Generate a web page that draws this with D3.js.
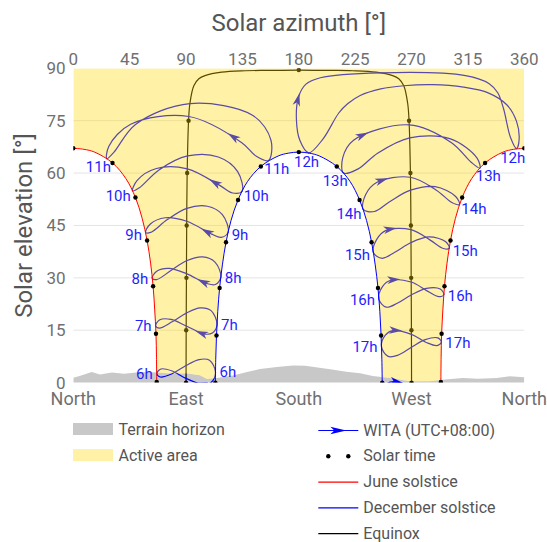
<!DOCTYPE html>
<html>
<head>
<meta charset="utf-8">
<script src="https://cdn.jsdelivr.net/npm/d3@7"></script>
<style>
  body { margin: 0; background: #fff; }
  svg { font-family: Roboto, "Noto Sans", sans-serif; }
</style>
</head>
<body>
<svg id="chart" width="547" height="542"></svg>
<script>
// axis ticks
const azimuthTicks = [0, 45, 90, 135, 180, 225, 270, 315, 360];
const elevationTicks = [0, 15, 30, 45, 60, 75, 90];
const compass = [[0, 'North'], [90, 'East'], [180, 'South'], [270, 'West'], [360, 'North']];

// day paths: [solar hour, azimuth, elevation]
const juneMorning = [
  [6, 66.6, 0.2], [6.5, 66.4, 7.1], [7, 66.0, 14.0], [7.5, 65.0, 20.8],
  [8, 63.7, 27.6], [8.5, 61.7, 34.2], [9, 58.9, 40.7], [9.5, 55.0, 47.0],
  [10, 49.6, 53.0], [10.5, 42.0, 58.4], [11, 31.3, 62.9], [11.5, 17.0, 66.0],
  [11.75, 8.5, 66.8], [12, 0, 67.1]
];
const juneAfternoon = [
  [12, 360, 67.1], [12.25, 351.5, 66.8], [12.5, 343.0, 66.0], [13, 328.7, 62.9],
  [13.5, 318.0, 58.4], [14, 310.4, 53.0], [14.5, 305.0, 47.0], [15, 301.1, 40.7],
  [15.5, 298.3, 34.2], [16, 296.3, 27.6], [16.5, 295.0, 20.8], [17, 294.0, 14.0],
  [17.5, 293.6, 7.1], [18, 293.4, 0.2]
];
const decemberPath = [
  [6, 113.4, 0], [6.5, 113.7, 6.7], [7, 114.3, 13.5], [7.5, 115.3, 20.3],
  [8, 116.8, 27.1], [8.5, 119.0, 33.7], [9, 121.9, 40.2], [9.5, 125.9, 46.4],
  [10, 131.5, 52.3], [10.5, 139.1, 57.6], [11, 149.7, 61.9], [11.5, 163.6, 64.9],
  [11.75, 171.6, 65.7], [12, 180, 66.0], [12.25, 188.4, 65.7], [12.5, 196.4, 64.9],
  [13, 210.3, 61.9], [13.5, 220.9, 57.6], [14, 228.5, 52.3], [14.5, 234.1, 46.4],
  [15, 238.1, 40.2], [15.5, 241.0, 33.7], [16, 243.2, 27.1], [16.5, 244.7, 20.3],
  [17, 245.7, 13.5], [17.5, 246.3, 6.7], [18, 246.6, 0]
];
const equinoxPath = [
  [6, 90.0, 0], [7, 90.1, 15.0], [8, 90.3, 30.0], [9, 90.5, 45.0], [10, 90.9, 60.0],
  [11, 92.0, 75.0], [11.33, 93.1, 80.0], [11.67, 96.2, 85.0], [11.8, 100.2, 87.0],
  [11.87, 105.1, 87.9], [11.93, 118.4, 88.9], [11.97, 137.2, 89.3], [11.98, 155.2, 89.4],
  [12, 180, 89.5], [12.02, 204.8, 89.4], [12.03, 222.8, 89.3], [12.07, 241.6, 88.9],
  [12.13, 254.9, 87.9], [12.2, 259.8, 87.0], [12.33, 263.8, 85.0], [12.67, 266.9, 80.0],
  [13, 268.0, 75.0], [14, 269.1, 60.0], [15, 269.5, 45.0], [16, 269.7, 30.0],
  [17, 269.9, 15.0], [18, 270.0, 0]
];

// terrain horizon: [azimuth, elevation]
const terrain = [
  [0, 1.4], [5, 1.9], [14.7, 3.0], [21.3, 2.3], [30.9, 2.9], [40.5, 2.5], [54, 3.0],
  [66.8, 2.9], [77.2, 2.6], [90.8, 2.6], [101, 2.1], [106.7, 1.0], [114.7, 1.3],
  [127.5, 2.0], [138.7, 3.0], [149, 3.9], [162.5, 4.5], [175.4, 4.9], [185, 4.8],
  [205, 3.8], [218, 3.1], [229, 2.7], [239, 1.9], [252.8, 1.3], [268.6, 0.4],
  [284.6, 0.4], [296.7, 0.9], [311, 1.3], [323, 1.1], [338, 1.3], [348.5, 1.8],
  [354, 1.7], [360, 1.5]
];

// WITA clock-hour analemmas: [date, azimuth, elevation]
const wita06 = [['06-21', 66.6, 2.6], ['07-20', 69.4, 1.6], ['08-25', 79.2, 2.6], ['09-23', 90.0, 4.9], ['10-20', 100.4, 6.6], ['11-15', 108.7, 6.4], ['12-21', 113.5, 3.0], ['01-20', 110.2, 0.1], ['02-11', 104.2, -0.6], ['03-20', 90.0, 1.2], ['04-20', 78.4, 3.4], ['05-20', 70.0, 3.9]];
const wita07 = [['06-21', 65.7, 16.3], ['07-20', 68.7, 15.6], ['08-25', 78.9, 17.4], ['09-23', 90.2, 19.9], ['10-20', 101.3, 21.4], ['11-15', 110.0, 20.6], ['12-21', 114.7, 16.7], ['01-20', 111.0, 14.2], ['02-11', 104.8, 13.9], ['03-20', 90.2, 16.2], ['04-20', 78.0, 18.1], ['05-20', 69.1, 18.0]];
const wita08 = [['06-21', 63.0, 29.9], ['07-20', 66.5, 29.5], ['08-25', 77.6, 32.0], ['09-23', 90.4, 34.9], ['10-20', 103.2, 36.0], ['11-15', 113.1, 34.5], ['12-21', 117.8, 30.2], ['01-20', 113.4, 28.1], ['02-11', 106.5, 28.4], ['03-20', 90.3, 31.2], ['04-20', 76.5, 32.7], ['05-20', 66.6, 31.9]];
const wita09 = [['06-21', 57.7, 43.0], ['07-20', 61.8, 43.0], ['08-25', 74.8, 46.6], ['09-23', 90.6, 49.9], ['10-20', 107.0, 50.5], ['11-15', 119.0, 48.1], ['12-21', 123.6, 43.1], ['01-20', 118.1, 41.6], ['02-11', 110.0, 42.6], ['03-20', 90.6, 46.2], ['04-20', 73.4, 47.2], ['05-20', 61.5, 45.4]];
const wita10 = [['06-21', 47.3, 54.9], ['07-20', 52.4, 55.7], ['08-25', 68.4, 60.9], ['09-23', 91.2, 64.9], ['10-20', 115.8, 64.6], ['11-15', 131.2, 60.4], ['12-21', 134.7, 54.8], ['01-20', 127.2, 54.3], ['02-11', 117.2, 56.4], ['03-20', 91.0, 61.2], ['04-20', 66.3, 61.3], ['05-20', 51.0, 57.9]];
const wita11 = [['06-21', 26.8, 64.1], ['07-20', 32.5, 66.0], ['08-25', 49.9, 74.0], ['09-23', 93.0, 79.9], ['10-20', 143.4, 76.5], ['11-15', 157.8, 69.4], ['12-21', 155.8, 63.6], ['01-20', 146.1, 64.8], ['02-11', 134.5, 68.7], ['03-20', 92.2, 76.2], ['04-20', 45.8, 74.0], ['05-20', 28.4, 67.7]];
const wita12 = [['06-21', 353.9, 67.0], ['07-20', 355.9, 69.9], ['08-10', 353.8, 74.8], ['08-25', 346.2, 79.5], ['09-05', 331.6, 82.9], ['09-12', 311.5, 84.6], ['09-18', 286.7, 85.3], ['09-23', 263.8, 85.0], ['09-28', 245.4, 84.1], ['10-05', 229.0, 82.2], ['10-12', 219.2, 79.9], ['10-20', 211.9, 77.2], ['11-15', 199.4, 69.8], ['12-21', 187.9, 65.8], ['01-20', 180.9, 69.3], ['02-11', 178.1, 75.3], ['03-01', 179.7, 81.7], ['03-10', 185.5, 85.4], ['03-15', 197.2, 87.3], ['03-20', 245.4, 88.7], ['03-25', 313.1, 87.9], ['04-01', 332.0, 85.6], ['04-08', 338.8, 83.0], ['04-20', 343.4, 78.5], ['05-20', 349.0, 70.2]];
const wita13 = [['06-21', 324.5, 61.4], ['07-20', 322.3, 64.3], ['08-25', 301.1, 69.8], ['09-23', 268.5, 70.1], ['10-20', 242.9, 65.7], ['11-15', 227.4, 61.2], ['12-21', 215.7, 60.0], ['01-20', 215.1, 64.4], ['02-11', 223.7, 69.4], ['03-20', 268.1, 73.8], ['04-20', 301.9, 68.7], ['05-20', 317.6, 63.1]];
const wita14 = [['06-21', 308.3, 51.0], ['07-20', 305.2, 53.3], ['08-25', 288.8, 56.1], ['09-23', 269.2, 55.1], ['10-20', 252.5, 51.8], ['11-15', 240.4, 49.0], ['12-21', 231.4, 49.6], ['01-20', 233.3, 53.8], ['02-11', 242.1, 57.3], ['03-20', 269.1, 58.8], ['04-20', 289.8, 55.1], ['05-20', 302.5, 51.5]];
const wita15 = [['06-21', 300.1, 38.5], ['07-20', 297.0, 40.4], ['08-25', 284.0, 41.7], ['09-23', 269.6, 40.1], ['10-20', 256.6, 37.3], ['11-15', 246.6, 35.6], ['12-21', 239.6, 37.2], ['01-20', 242.2, 41.0], ['02-11', 249.7, 43.6], ['03-20', 269.5, 43.8], ['04-20', 284.9, 40.8], ['05-20', 295.4, 38.4]];
const wita16 = [['06-21', 295.8, 25.2], ['07-20', 292.9, 26.8], ['08-25', 281.9, 27.0], ['09-23', 269.8, 25.1], ['10-20', 258.6, 22.7], ['11-15', 249.8, 21.6], ['12-21', 243.9, 23.9], ['01-20', 246.8, 27.5], ['02-11', 253.3, 29.3], ['03-20', 269.7, 28.8], ['04-20', 282.7, 26.2], ['05-20', 291.8, 24.6]];
const wita17 = [['06-21', 293.8, 11.6], ['07-20', 291.0, 12.8], ['08-25', 280.9, 12.3], ['09-23', 269.9, 10.1], ['10-20', 259.5, 7.9], ['11-15', 251.3, 7.5], ['12-21', 246.0, 10.3], ['01-20', 249.1, 13.6], ['02-11', 255.2, 14.9], ['03-20', 269.9, 13.8], ['04-20', 281.7, 11.5], ['05-20', 290.3, 10.6]];
const wita18 = [['06-21', 293.5, -2.2], ['07-20', 290.6, -1.2], ['08-25', 280.8, -2.4], ['09-23', 270.0, -4.9], ['10-20', 259.7, -6.8], ['11-15', 251.4, -6.8], ['12-21', 246.5, -3.4], ['01-20', 249.8, -0.5], ['02-11', 255.8, 0.3], ['03-20', 270.0, -1.2], ['04-20', 281.7, -3.2], ['05-20', 290.1, -3.5]];

const witaHours = [6, 7, 8, 9, 10, 11, 12, 13, 14, 15, 16, 17, 18];
const witaLoops = [wita06, wita07, wita08, wita09, wita10, wita11, wita12, wita13, wita14, wita15, wita16, wita17, wita18];
const labelledHours = [6, 7, 8, 9, 10, 11, 12, 13, 14, 15, 16, 17];

const svg = d3.select('#chart');
const x = d3.scaleLinear().domain([0, 360]).range([73.3, 524.3]);
const y = d3.scaleLinear().domain([0, 90]).range([382.6, 68.3]);
const [x0, x1] = x.range();
const [yb, yt] = y.range();

const dayLine = d3.line().x(d => x(d[1])).y(d => y(d[2])).curve(d3.curveCatmullRom.alpha(0.5));
const loopLine = d3.line().x(d => x(d[1])).y(d => y(d[2])).curve(d3.curveCatmullRomClosed.alpha(0.5));
const terrainArea = d3.area().x(d => x(d[0])).y0(yb + 4).y1(d => y(d[1]));

const defs = svg.append('defs');
defs.append('clipPath').attr('id', 'plot').append('rect')
  .attr('x', x0).attr('y', yt).attr('width', x1 - x0).attr('height', yb - yt);

// active area = sky the sun reaches, above the terrain
const mask = defs.append('mask').attr('id', 'active')
  .attr('maskUnits', 'userSpaceOnUse').attr('x', 0).attr('y', 0).attr('width', 547).attr('height', 542);
mask.append('rect').attr('x', x0).attr('y', yt).attr('width', x1 - x0).attr('height', yb - yt).attr('fill', '#fff');
const jmA = juneMorning[0], jmB = juneMorning[juneMorning.length - 1];
mask.append('path').attr('fill', '#000')
  .attr('d', dayLine(juneMorning) + `L${x(jmB[1]) - 3},${y(jmB[2])}L${x(jmB[1]) - 3},${yb + 4}L${x(jmA[1])},${yb + 4}Z`);
const jaA = juneAfternoon[0], jaB = juneAfternoon[juneAfternoon.length - 1];
mask.append('path').attr('fill', '#000')
  .attr('d', dayLine(juneAfternoon) + `L${x(jaB[1])},${yb + 4}L${x(jaA[1]) + 3},${yb + 4}L${x(jaA[1]) + 3},${y(jaA[2])}Z`);
const dA = decemberPath[0], dB = decemberPath[decemberPath.length - 1];
mask.append('path').attr('fill', '#000')
  .attr('d', dayLine(decemberPath) + `L${x(dB[1])},${yb + 4}L${x(dA[1])},${yb + 4}Z`);
mask.append('path').attr('fill', '#000').attr('d', terrainArea(terrain));

const plot = svg.append('g').attr('clip-path', 'url(#plot)');

plot.append('path').attr('d', terrainArea(terrain)).attr('fill', '#c8c8c8');

plot.selectAll('.grid').data(elevationTicks.filter(t => t > 0 && t < 90)).enter().append('line')
  .attr('x1', x0).attr('x2', x1).attr('y1', d => y(d)).attr('y2', d => y(d))
  .attr('stroke', '#e4e4e4').attr('stroke-width', 1);

// equinox
plot.append('path').attr('d', dayLine(equinoxPath)).attr('fill', 'none')
  .attr('stroke', '#000').attr('stroke-width', 1.2);
plot.selectAll('.eqdot').data(equinoxPath.filter(d => Number.isInteger(d[0]))).enter().append('circle')
  .attr('cx', d => x(d[1])).attr('cy', d => y(d[2])).attr('r', 2.2).attr('fill', '#000');

// analemmas with a direction arrow between Feb and Mar
const loopColor = '#0000ff';
const arrowShape = 'M6,0L-7,-3.8L-3.5,0L-7,3.8Z';

function arrowAlong(node, pa, pb, frac) {
  const total = node.getTotalLength();
  let la = 0, da = Infinity;
  for (let l = 0; l <= total; l += 0.5) {
    const q = node.getPointAtLength(l);
    const d = (q.x - pa[0]) ** 2 + (q.y - pa[1]) ** 2;
    if (d < da) { da = d; la = l; }
  }
  let lb = la, db = Infinity;
  for (let l = la; l <= total; l += 0.5) {
    const q = node.getPointAtLength(l);
    const d = (q.x - pb[0]) ** 2 + (q.y - pb[1]) ** 2;
    if (d < db) { db = d; lb = l; }
  }
  const l = la + frac * (lb - la);
  const p = node.getPointAtLength(l);
  const p0 = node.getPointAtLength(Math.max(0, l - 1));
  const p1 = node.getPointAtLength(Math.min(total, l + 1));
  return { x: p.x, y: p.y, angle: Math.atan2(p1.y - p0.y, p1.x - p0.x) * 180 / Math.PI };
}

witaLoops.forEach(points => {
  const node = plot.append('path').attr('d', loopLine(points)).attr('fill', 'none')
    .attr('stroke', loopColor).attr('stroke-width', 1.2).node();
  const a = points.find(p => p[0] === '02-11'), b = points.find(p => p[0] === '03-20');
  const arr = arrowAlong(node, [x(a[1]), y(a[2])], [x(b[1]), y(b[2])], 0.18);
  plot.append('path').attr('d', arrowShape).attr('fill', loopColor)
    .attr('transform', `translate(${arr.x},${arr.y}) rotate(${arr.angle})`);
});

// yellow active area laid over the lines
plot.append('rect').attr('x', x0).attr('y', yt).attr('width', x1 - x0).attr('height', yb - yt)
  .attr('fill', '#ffd700').attr('fill-opacity', 0.35).attr('mask', 'url(#active)');

// solstices
[juneMorning, juneAfternoon].forEach(p => plot.append('path').attr('d', dayLine(p))
  .attr('fill', 'none').attr('stroke', '#ff0000').attr('stroke-width', 1));
plot.append('path').attr('d', dayLine(decemberPath)).attr('fill', 'none')
  .attr('stroke', '#0000ff').attr('stroke-width', 1);
plot.selectAll('.soldot').data([...juneMorning, ...juneAfternoon, ...decemberPath].filter(d => Number.isInteger(d[0])))
  .enter().append('circle')
  .attr('cx', d => x(d[1])).attr('cy', d => y(d[2])).attr('r', 2.2).attr('fill', '#000');

// hour labels beside the solstice crossings
const labels = svg.append('g').attr('font-size', 15).attr('fill', '#1f1fff');
function placeLabel(text, pt, curve) {
  const px = x(pt[1]), py = y(pt[2]);
  const pts = curve.map(d => [x(d[1]), y(d[2])]);
  const i = d3.minIndex(pts, q => (q[0] - px) ** 2 + (q[1] - py) ** 2);
  const a = pts[Math.max(0, i - 1)], b = pts[Math.min(pts.length - 1, i + 1)];
  let nx = -(b[1] - a[1]), ny = b[0] - a[0];
  if (ny < 0) { nx = -nx; ny = -ny; }
  nx *= 0.7;
  const len = Math.hypot(nx, ny);
  nx /= len; ny /= len;
  const t = labels.append('text').text(text).attr('text-anchor', 'middle').attr('dominant-baseline', 'central');
  const w = t.node().getComputedTextLength(), h = 11, gap = 4;
  let cx = px + nx * (gap + w / 2);
  const cy = py + ny * (gap + h / 2);
  cx = Math.min(cx, x1 + 1 - w / 2);
  t.attr('x', cx).attr('y', cy);
}
labelledHours.forEach(hour => {
  const points = witaLoops[witaHours.indexOf(hour)];
  const june = points.find(p => p[0] === '06-21');
  const dec = points.find(p => p[0] === '12-21');
  placeLabel(hour + 'h', june, june[1] < 180 ? juneMorning : juneAfternoon);
  placeLabel(hour + 'h', dec, decemberPath);
});

// axes
svg.append('g').attr('font-size', 17).attr('fill', '#707070').attr('text-anchor', 'middle')
  .selectAll('text').data(azimuthTicks).enter().append('text')
  .attr('x', d => x(d)).attr('y', 64.5).text(d => d);
svg.append('g').attr('font-size', 17).attr('fill', '#707070').attr('text-anchor', 'end')
  .selectAll('text').data(elevationTicks).enter().append('text')
  .attr('x', 65.5).attr('y', d => y(d)).attr('dominant-baseline', 'central').text(d => d);
svg.append('g').attr('font-size', 18).attr('fill', '#707070').attr('text-anchor', 'middle')
  .selectAll('text').data(compass).enter().append('text')
  .attr('x', d => x(d[0])).attr('y', 405).text(d => d[1]);

svg.append('text').attr('x', (x0 + x1) / 2).attr('y', 31).attr('text-anchor', 'middle')
  .attr('font-size', 24).attr('fill', '#555').text('Solar azimuth [°]');
svg.append('text').attr('transform', `translate(32,${(yb + yt) / 2}) rotate(-90)`).attr('text-anchor', 'middle')
  .attr('font-size', 24).attr('fill', '#555').text('Solar elevation [°]');

// legend
const legend = svg.append('g').attr('font-size', 16).attr('fill', '#555');
legend.append('rect').attr('x', 73).attr('y', 423).attr('width', 40).attr('height', 12).attr('fill', '#c8c8c8');
legend.append('text').attr('x', 118.5).attr('y', 429.5).attr('dominant-baseline', 'central').text('Terrain horizon');
legend.append('rect').attr('x', 73).attr('y', 449).attr('width', 40).attr('height', 12)
  .attr('fill', '#ffd700').attr('fill-opacity', 0.35);
legend.append('text').attr('x', 118.5).attr('y', 455).attr('dominant-baseline', 'central').text('Active area');

const rows = [
  { label: 'WITA (UTC+08:00)', kind: 'arrow', color: loopColor },
  { label: 'Solar time', kind: 'dots', color: '#000' },
  { label: 'June solstice', kind: 'line', color: '#ff0000' },
  { label: 'December solstice', kind: 'line', color: '#0000ff' },
  { label: 'Equinox', kind: 'line', color: '#000' }
];
rows.forEach((r, i) => {
  const ry = 430.5 + i * 25.8;
  if (r.kind === 'dots') {
    [328.3, 348.3].forEach(cx => legend.append('circle').attr('cx', cx).attr('cy', ry).attr('r', 2.2).attr('fill', r.color));
  } else {
    legend.append('line').attr('x1', 318.3).attr('x2', 358.3).attr('y1', ry).attr('y2', ry)
      .attr('stroke', r.color).attr('stroke-width', 1.2);
    if (r.kind === 'arrow') {
      legend.append('path').attr('d', 'M8,0L-8,-3.8L-4,0L-8,3.8Z').attr('fill', r.color)
        .attr('transform', `translate(338.3,${ry})`);
    }
  }
  legend.append('text').attr('x', 363.3).attr('y', ry - 0.5).attr('dominant-baseline', 'central').text(r.label);
});
</script>
</body>
</html>
